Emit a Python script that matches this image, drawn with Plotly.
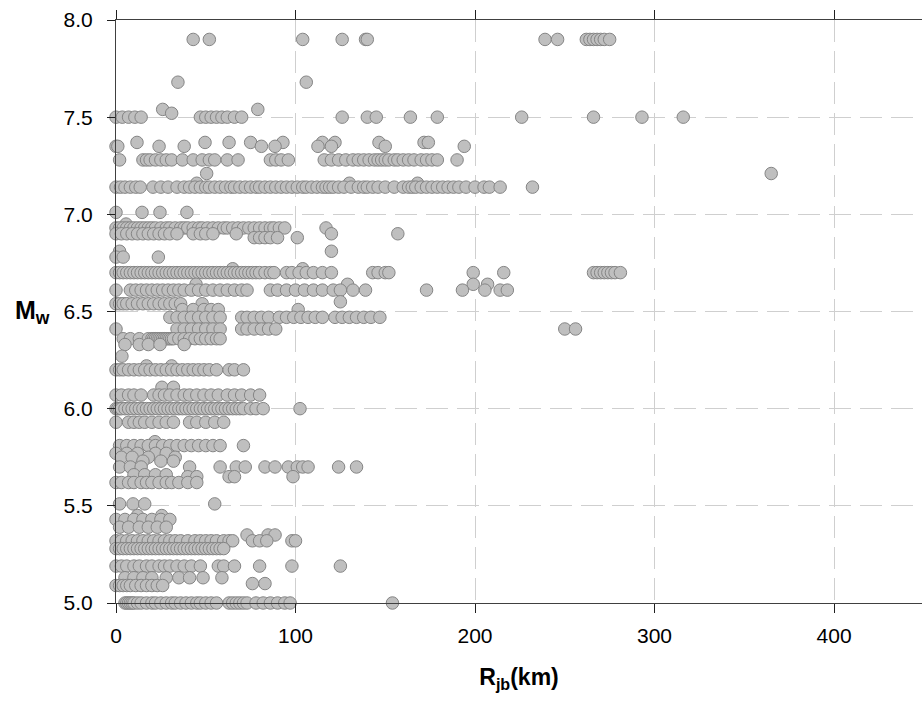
import plotly.graph_objects as go

# Rjb (km) values, grouped by magnitude row
M790 = [43, 52, 104, 126, 139, 140, 239, 246, 262, 264, 266, 268, 270, 272, 275]
M768 = [34.5, 106]
M754 = [26, 79]
M752 = [31]
M750 = [0, 3.5, 7, 10.5, 14, 47, 50, 53, 56, 59, 62, 66, 70, 126, 140, 145, 164, 179, 226, 266, 293, 316]
M737 = [11.7, 49.6, 63, 75, 93, 115, 122, 146.5, 171.6, 174]
M735 = [0, 1, 24, 38, 81, 88.6, 112.5, 120, 150, 194]
M728 = [2, 15, 17, 19, 22, 25, 28, 31, 37, 43, 48, 52, 55, 62, 68, 86, 89, 92, 96, 116, 120, 124, 128,
        132, 135, 138, 141, 144, 146, 148, 150, 152, 155, 157, 160, 163, 166, 170, 173, 176, 179, 190]
M721 = [50.5, 365]
M716 = [45, 130, 168]
M714 = [0, 2.5, 5, 8, 11, 13.5, 20.6, 25, 29, 34, 38, 41, 44, 47, 50, 52, 55, 58, 61, 64, 66, 69, 72, 75,
        78, 80, 83, 86, 89, 92, 95, 98, 101, 104, 106, 109, 112, 115, 117, 119, 121, 124, 127, 131, 135,
        138, 140, 143, 146, 150, 155, 160, 163, 165, 167, 170, 173, 176, 179, 182, 185, 188, 191, 195,
        200, 205, 208, 214, 232]
M701 = [0, 14.5, 24.5, 39.5]
M695 = [5.6]
M693 = [0, 2, 4, 6, 8, 10, 12, 14, 16, 18, 20, 22, 25, 28, 30, 33, 36, 38, 40, 43, 46, 48, 51, 54, 57, 60,
        62, 65, 68, 71, 74, 77, 80, 83, 86, 88, 91, 94, 117]
M690 = [0, 3, 6, 9, 12, 15, 18, 21, 24, 27, 30, 34, 43, 47, 50, 54, 67, 120, 157]
M688 = [77, 80, 83, 86, 90, 101]
M681 = [2, 120]
M678 = [0, 4, 23.6]
M672 = [65, 104]
M670 = [0, 2, 4, 6, 8, 10, 12, 14, 16, 18, 20, 22, 24, 26, 28, 30, 32, 34, 36, 38, 40, 42, 44, 46, 48, 50,
        52, 54, 56, 58, 60, 62, 64, 66, 68, 70, 72, 74, 76, 78, 80, 83, 86, 88, 95, 98, 102, 106, 110, 115,
        120, 143, 146, 150, 152, 199, 216, 266, 268, 270, 272, 274, 276, 278, 281]
M664 = [44.6, 129, 199, 207]
M661 = [0, 8, 11, 14, 17, 20, 23, 26, 29, 32, 35, 38, 42, 46, 50, 54, 58, 62, 66, 70, 73, 86, 90, 95, 100,
        105, 110, 115, 121, 125, 132, 139, 173, 193, 205.5, 214, 218]
M655 = [125]
M654 = [0, 2, 4, 6, 9, 12, 15, 18, 21, 24, 27, 30, 33, 36, 48]
M651 = [37, 43, 49, 53, 57, 101.5]
M647 = [30, 34, 38, 42, 46, 50, 54, 58, 70, 73, 77, 81, 85, 91, 95, 99, 103, 107, 111, 115, 122, 126, 130,
        134, 138, 142, 147]
M641 = [0, 34, 38, 42, 46, 50, 54, 58, 70, 73, 77, 81, 85, 89, 250, 256]
M636 = [4, 8, 13, 18, 20, 21, 22, 23, 24, 25, 26, 27, 28, 29, 30, 31, 32, 35, 38, 41, 44, 47, 50, 53, 56, 58]
M633 = [5, 13, 18, 24.5, 38]
M627 = [3.3]
M622 = [17, 31]
M620 = [0, 2, 4, 7, 10, 13, 16, 19, 22, 25, 28, 31, 34, 37, 40, 43, 46, 49, 52, 56, 63, 66, 71]
M611 = [25.6, 32]
M607 = [0, 3, 7, 10, 14, 21, 24, 27, 30, 34, 38, 41, 45, 49, 53, 57, 62, 66, 70, 75, 80]
M600 = [0, 1, 2, 3, 5, 7, 9, 11, 13, 15, 17, 19, 21, 23, 25, 27, 29, 31, 33, 35, 37, 39, 41, 43, 45, 47, 49,
        51, 53, 55, 57, 59, 61, 63, 65, 67, 69, 71, 75, 78, 82, 102.5]
M593 = [0, 7, 10, 13, 16, 20, 24, 28, 32, 41, 45, 50, 55, 60]
M583 = [21.7]
M581 = [2, 6, 10, 14, 18, 22, 26, 30, 34, 38, 42, 46, 50, 54, 58, 71]
M577 = [0, 6, 12, 22, 28]
M575 = [3, 9, 18, 33]
M573 = [15, 25, 32]
M570 = [2, 8, 14, 41, 58, 67, 72, 83, 88.6, 96, 101, 104, 107, 124, 134]
M566 = [10, 16, 22, 28]
M565 = [40, 45, 63, 66, 98.6]
M562 = [0, 3, 7, 10, 14, 17, 20, 24, 28, 31, 35, 40, 45]
M551 = [2, 9.5, 16, 55]
M545 = [12, 25.5]
M543 = [0, 5, 10, 15, 20, 25, 30]
M539 = [2, 7, 13, 18, 23, 28]
M535 = [73, 84.7, 88.6]
M532 = [0, 3, 6, 9, 12, 15, 18, 21, 24, 27, 30, 33, 36, 40, 44, 47, 50, 53, 56, 60, 63, 65, 76, 80, 84, 98, 100]
M527 = [0, 2, 4, 6, 8, 10, 12, 14, 16, 18, 20, 22, 24, 26, 28, 30, 32, 34, 36, 38, 40, 42, 44, 46, 48, 50,
        52, 54, 56, 58, 60]
M519 = [0, 3, 6, 10, 13, 17, 20, 24, 27, 30, 34, 38, 42, 47, 57, 60, 66, 80, 98, 125]
M513 = [5, 10, 15, 20, 28, 35, 41, 48.5, 59]
M510 = [76, 83]
M509 = [0, 2, 4, 6, 8, 11, 14, 17, 20, 23, 26]
M500 = [5, 6, 7, 8, 9, 10, 12, 14, 17, 20, 22, 25, 28, 31, 33, 36, 39, 42, 45, 47, 50, 53, 56, 63, 65, 67,
        69, 71, 73, 78, 82, 86, 90, 94, 97, 154]

MAGNITUDES = [7.90, 7.68, 7.54, 7.52, 7.50, 7.37, 7.35, 7.28, 7.21, 7.16, 7.14, 7.01, 6.95, 6.93, 6.90,
              6.88, 6.81, 6.78, 6.72, 6.70, 6.64, 6.61, 6.55, 6.54, 6.51, 6.47, 6.41, 6.36, 6.33, 6.27,
              6.22, 6.20, 6.11, 6.07, 6.00, 5.93, 5.83, 5.81, 5.77, 5.75, 5.73, 5.70, 5.66, 5.65, 5.62,
              5.51, 5.45, 5.43, 5.39, 5.35, 5.32, 5.28, 5.19, 5.13, 5.10, 5.09, 5.00]
ROWS = [M790, M768, M754, M752, M750, M737, M735, M728, M721, M716, M714, M701, M695, M693, M690,
        M688, M681, M678, M672, M670, M664, M661, M655, M654, M651, M647, M641, M636, M633, M627,
        M622, M620, M611, M607, M600, M593, M583, M581, M577, M575, M573, M570, M566, M565, M562,
        M551, M545, M543, M539, M535, M532, M527, M519, M513, M510, M509, M500]

X_TICKS = [0, 100, 200, 300, 400]
Y_TICKS = [5.0, 5.5, 6.0, 6.5, 7.0, 7.5, 8.0]
Y_TICK_TEXT = ["5.0", "5.5", "6.0", "6.5", "7.0", "7.5", "8.0"]

xs, ys = [], []
for m, row in zip(MAGNITUDES, ROWS):
    for r in row:
        xs.append(r)
        ys.append(m)

FONT = "Liberation Sans, Arial, sans-serif"

fig = go.Figure()
fig.add_trace(go.Scatter(
    x=xs, y=ys, mode="markers", cliponaxis=False, hoverinfo="skip",
    marker=dict(size=12.5, color="#bfbfbf", line=dict(color="#858585", width=1)),
))

axis_common = dict(
    showline=True, linecolor="#404040", linewidth=1,
    ticks="outside", tickcolor="#202020", tickwidth=1,
    showgrid=True, gridcolor="#cfcfcf", gridwidth=1, griddash="22px,9px",
    zeroline=False,
    tickfont=dict(family=FONT, size=21, color="#000000"),
)

fig.update_xaxes(
    range=[0, 449], tickvals=X_TICKS, ticklen=9, mirror="ticks",
    title=dict(text="<b>R<sub>jb</sub>(km)</b>", font=dict(family=FONT, size=23, color="#000"), standoff=22),
    ticklabelstandoff=5,
    **axis_common,
)
fig.update_yaxes(
    range=[5, 8], tickvals=Y_TICKS, ticktext=Y_TICK_TEXT, ticklen=8, mirror=False,
    ticklabelstandoff=10,
    **axis_common,
)

fig.add_annotation(
    text="<b>M<sub>w</sub></b>", xref="paper", yref="paper", x=-0.128, y=0.5,
    xanchor="left", yanchor="middle", showarrow=False,
    font=dict(family=FONT, size=25, color="#000"),
)

fig.update_layout(
    width=922, height=708,
    margin=dict(l=116, r=0, t=20, b=105),
    paper_bgcolor="white", plot_bgcolor="white",
    showlegend=False,
)

fig.write_html("out.html")
